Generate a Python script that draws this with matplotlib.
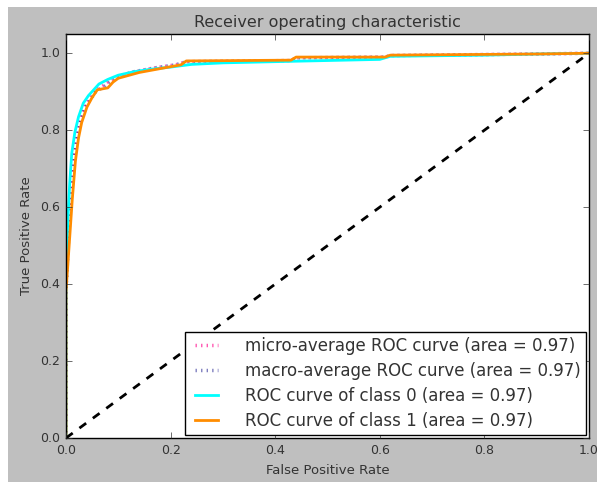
import matplotlib
matplotlib.use("Agg")
import matplotlib.pyplot as plt
from matplotlib.patches import Rectangle

# ROC points
fpr_micro = [0.0, 0.0, 0.004, 0.009, 0.014, 0.02, 0.027, 0.036, 0.046, 0.056, 0.07, 0.085, 0.1, 0.13, 0.17, 0.21, 0.23, 0.43, 0.44, 0.61, 0.62, 0.9, 1.0]
tpr_micro = [0.0, 0.39, 0.53, 0.64, 0.73, 0.79, 0.83, 0.865, 0.885, 0.905, 0.915, 0.93, 0.94, 0.952, 0.962, 0.97, 0.978, 0.981, 0.988, 0.99, 0.994, 0.998, 1.0]

fpr_macro = [0.0, 0.0, 0.005, 0.01, 0.015, 0.021, 0.028, 0.037, 0.047, 0.057, 0.072, 0.086, 0.1, 0.13, 0.17, 0.21, 0.23, 0.43, 0.44, 0.61, 0.62, 0.9, 1.0]
tpr_macro = [0.0, 0.38, 0.52, 0.63, 0.72, 0.78, 0.825, 0.86, 0.88, 0.9, 0.913, 0.928, 0.94, 0.952, 0.962, 0.97, 0.978, 0.981, 0.988, 0.99, 0.994, 0.998, 1.0]

fpr_0 = [0.0, 0.0, 0.003, 0.007, 0.011, 0.017, 0.024, 0.033, 0.043, 0.053, 0.063, 0.08, 0.1, 0.13, 0.16, 0.2, 0.24, 0.3, 0.43, 0.6, 0.62, 0.8, 0.9, 1.0]
tpr_0 = [0.0, 0.41, 0.55, 0.66, 0.74, 0.795, 0.835, 0.87, 0.89, 0.905, 0.92, 0.932, 0.943, 0.952, 0.958, 0.964, 0.971, 0.975, 0.979, 0.984, 0.992, 0.995, 0.998, 1.0]

fpr_1 = [0.0, 0.0, 0.006, 0.012, 0.018, 0.024, 0.03, 0.04, 0.05, 0.06, 0.08, 0.09, 0.1, 0.14, 0.2, 0.22, 0.23, 0.43, 0.44, 0.61, 0.62, 0.9, 1.0]
tpr_1 = [0.0, 0.38, 0.5, 0.62, 0.72, 0.78, 0.82, 0.86, 0.885, 0.905, 0.91, 0.925, 0.935, 0.95, 0.965, 0.97, 0.98, 0.982, 0.99, 0.99, 0.995, 0.998, 1.0]

auc_micro, auc_macro, auc_0, auc_1 = 0.97, 0.97, 0.97, 0.97

plt.style.use('classic')
fig = plt.figure(figsize=(5.97, 4.88), dpi=100, facecolor='white')
fig.patches.append(Rectangle((8 / 597, 6 / 488), 1, 1 - 13 / 488, transform=fig.transFigure,
                             facecolor='#bfbfbf', edgecolor='none', zorder=-10))
ax = fig.add_axes([66 / 597, 50 / 488, 523 / 597, 404 / 488])

ax.plot(fpr_micro, tpr_micro, color='deeppink', linestyle=':', linewidth=2.5, alpha=0.7,
        label='micro-average ROC curve (area = {0:0.2f})'.format(auc_micro))
ax.plot(fpr_macro, tpr_macro, color='navy', linestyle=':', linewidth=2.5, alpha=0.5,
        label='macro-average ROC curve (area = {0:0.2f})'.format(auc_macro))
ax.plot(fpr_0, tpr_0, color='aqua', linewidth=2,
        label='ROC curve of class 0 (area = {0:0.2f})'.format(auc_0))
ax.plot(fpr_1, tpr_1, color='darkorange', linewidth=2,
        label='ROC curve of class 1 (area = {0:0.2f})'.format(auc_1))
ax.plot([0, 1], [0, 1], 'k--', linewidth=2)

ax.set_xlim(0.0, 1.0)
ax.set_ylim(0.0, 1.05)
ax.tick_params(labelsize=9, colors='#333333')
ax.set_xlabel('False Positive Rate', fontsize=9.5, color='#333333')
ax.set_ylabel('True Positive Rate', fontsize=9.5, color='#333333')
ax.set_title('Receiver operating characteristic', fontsize=11.5, color='#333333')
leg = ax.legend(loc='lower right', fontsize=12, borderaxespad=0.2, labelspacing=0.42,
                handlelength=2.0, handletextpad=1.3, borderpad=0.3)
for t in leg.get_texts():
    t.set_color('#333333')

fig.savefig('out.png', dpi=100, facecolor=fig.get_facecolor())
